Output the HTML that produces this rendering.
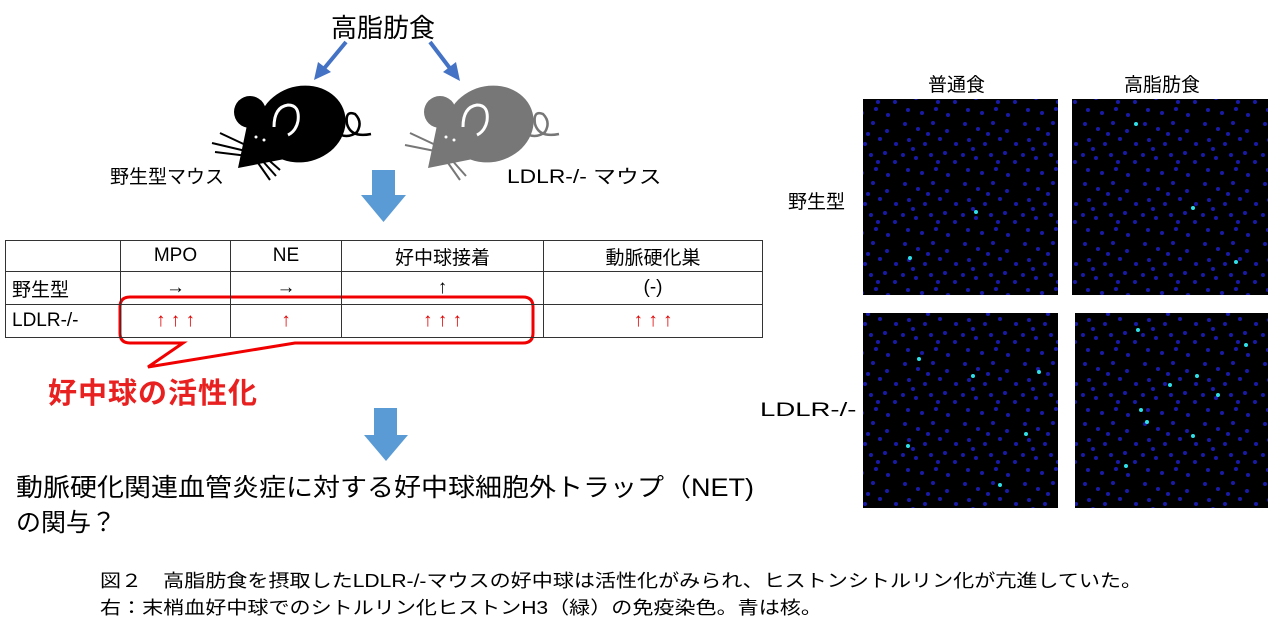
<!DOCTYPE html>
<html><head><meta charset="utf-8">
<style>
html,body{margin:0;padding:0;background:#fff;}
body{width:1280px;height:630px;position:relative;overflow:hidden;font-family:"Liberation Sans","Noto Sans CJK JP",sans-serif;color:#000;}
.t{position:absolute;white-space:nowrap;transform-origin:0 0;}
table{position:absolute;left:5px;top:240px;border-collapse:collapse;font-size:19px;}
td{border:1.5px solid #333;padding:0;text-align:center;}
.r{color:#e00000;}
</style></head><body>
<svg width="1280" height="630" style="position:absolute;left:0;top:0">
<defs>
<pattern id="dots" width="60" height="60" patternUnits="userSpaceOnUse">
<rect width="60" height="60" fill="#000"/>
<g fill="#1a1aa8">
<circle cx="5" cy="4" r="2"/><circle cx="18" cy="9" r="2"/><circle cx="33" cy="3" r="2"/><circle cx="47" cy="11" r="2"/><circle cx="56" cy="24" r="2"/>
<circle cx="9" cy="20" r="2"/><circle cx="25" cy="24" r="2"/><circle cx="40" cy="19" r="2"/><circle cx="3" cy="35" r="2"/><circle cx="16" cy="38" r="2"/>
<circle cx="31" cy="35" r="2"/><circle cx="45" cy="33" r="2"/><circle cx="55" cy="42" r="2"/><circle cx="8" cy="50" r="2"/><circle cx="22" cy="53" r="2"/>
<circle cx="36" cy="49" r="2"/><circle cx="48" cy="55" r="2"/><circle cx="28" cy="14" r="2"/><circle cx="13" cy="29" r="2"/><circle cx="38" cy="42" r="2"/>
</g></pattern>
</defs>
<g stroke="#4472c4" stroke-width="4" fill="#4472c4">
<line x1="346" y1="42" x2="322" y2="71"/><polygon points="314,80 318,62 331,72" stroke="none"/>
<line x1="430" y1="42" x2="452" y2="71"/><polygon points="460,81 443,72 456,62" stroke="none"/>
</g>
<!-- black mouse -->
<g fill="#000">
<ellipse cx="302" cy="124" rx="44" ry="38" transform="rotate(-15 302 124)"/>
<circle cx="250" cy="112" r="16"/>
<polygon points="252,100 300,130 290,158 238,168 246,130"/>
</g>
<path d="M335,132 q12,8 22,0 q6,-10 -2,-18 q-10,-4 -8,10 q4,14 24,10" fill="none" stroke="#000" stroke-width="2.5"/>
<path d="M274,127 q0,-20 14,-22 q12,0 10,16 q-2,10 -10,14" fill="none" stroke="#fff" stroke-width="3"/>
<g stroke="#000" stroke-width="2"><line x1="220" y1="133" x2="252" y2="148"/><line x1="212" y1="143" x2="250" y2="152"/><line x1="215" y1="152" x2="248" y2="156"/><line x1="256" y1="160" x2="270" y2="180"/><line x1="260" y1="158" x2="276" y2="176"/><line x1="264" y1="156" x2="280" y2="170"/></g>
<circle cx="256" cy="137" r="1.5" fill="#fff"/><circle cx="264" cy="140" r="1.5" fill="#fff"/>
<!-- grey mouse -->
<g fill="#777">
<ellipse cx="490" cy="124" rx="44" ry="38" transform="rotate(-15 490 124)"/>
<circle cx="440" cy="112" r="16"/>
<polygon points="442,100 488,130 478,158 428,168 436,130"/>
</g>
<path d="M523,132 q12,8 22,0 q6,-10 -2,-18 q-10,-4 -8,10 q4,14 24,10" fill="none" stroke="#777" stroke-width="2.5"/>
<path d="M463,127 q0,-20 14,-22 q12,0 10,16 q-2,10 -10,14" fill="none" stroke="#fff" stroke-width="3"/>
<g stroke="#777" stroke-width="2"><line x1="410" y1="133" x2="442" y2="148"/><line x1="405" y1="145" x2="440" y2="152"/><line x1="446" y1="160" x2="460" y2="180"/><line x1="450" y1="158" x2="466" y2="176"/></g>
<circle cx="446" cy="137" r="1.5" fill="#fff"/><circle cx="454" cy="140" r="1.5" fill="#fff"/>
<polygon points="372,170 395,170 395,195 406,195 383.5,222 361,195 372,195" fill="#5b9bd5"/>
<polygon points="374,408 397,408 397,435 408,435 386,461 364,435 374,435" fill="#5b9bd5"/>
<path d="M130,297 H523 Q533,297 533,307 V333 Q533,343 523,343 H295 L148,367 L183,343 H130 Q120,343 120,333 V307 Q120,297 130,297 Z" fill="none" stroke="#f00000" stroke-width="3"/>
<rect x="863" y="99" width="195" height="196" fill="url(#dots)"/>
<rect x="1072" y="99" width="196" height="196" fill="url(#dots)"/>
<rect x="863" y="313" width="195" height="195" fill="url(#dots)"/>
<rect x="1075" y="313" width="193" height="195" fill="url(#dots)"/>
<g fill="#30e0e8">
<circle cx="910" cy="258" r="2"/><circle cx="976" cy="212" r="2"/>
<circle cx="1136" cy="124" r="2"/><circle cx="1193" cy="208" r="2"/><circle cx="1236" cy="262" r="2"/>
<circle cx="919" cy="359" r="2"/><circle cx="973" cy="376" r="2"/><circle cx="1039" cy="372" r="2"/><circle cx="1026" cy="434" r="2"/><circle cx="908" cy="446" r="2"/><circle cx="1000" cy="485" r="2"/>
<circle cx="1138" cy="330" r="2"/><circle cx="1170" cy="385" r="2"/><circle cx="1141" cy="410" r="2"/><circle cx="1147" cy="422" r="2"/><circle cx="1197" cy="376" r="2"/><circle cx="1218" cy="395" r="2"/><circle cx="1126" cy="466" r="2"/><circle cx="1193" cy="436" r="2"/><circle cx="1246" cy="345" r="2"/>
</g>
</svg>
<div class="t" style="left:331px;top:8px;font-size:26px;">高脂肪食</div>
<div class="t" style="left:110px;top:162px;font-size:19px;">野生型マウス</div>
<div class="t" style="left:507px;top:162px;font-size:19px;transform:scaleX(1.2);">LDLR-/- マウス</div>
<table>
<tr style="height:31px"><td style="width:114px"></td><td style="width:109px">MPO</td><td style="width:110px">NE</td><td style="width:201px">好中球接着</td><td style="width:218px">動脈硬化巣</td></tr>
<tr style="height:33px"><td style="text-align:left;padding-left:6px">野生型</td><td>→</td><td>→</td><td>↑</td><td>(-)</td></tr>
<tr style="height:33px"><td style="text-align:left;padding-left:6px">LDLR-/-</td><td class="r">↑ ↑ ↑</td><td class="r">↑</td><td class="r">↑ ↑ ↑</td><td class="r">↑ ↑ ↑</td></tr>
</table>
<div class="t" style="left:48px;top:370px;font-size:29px;letter-spacing:1px;color:#e82020;font-weight:bold;">好中球の活性化</div>
<div class="t" style="left:16px;top:468px;font-size:25px;transform:scaleX(1.08);">動脈硬化関連血管炎症に対する好中球細胞外トラップ（NET)</div>
<div class="t" style="left:16px;top:503px;font-size:25px;">の関与？</div>
<div class="t" style="left:928px;top:70px;font-size:19px;">普通食</div>
<div class="t" style="left:1124px;top:70px;font-size:19px;">高脂肪食</div>
<div class="t" style="left:788px;top:187px;font-size:19px;">野生型</div>
<div class="t" style="left:760px;top:400px;font-size:19px;transform:scaleX(1.45);">LDLR-/-</div>
<div class="t" style="left:100px;top:567px;font-size:18px;transform:scaleX(1.17);">図２　高脂肪食を摂取したLDLR-/-マウスの好中球は活性化がみられ、ヒストンシトルリン化が亢進していた。</div>
<div class="t" style="left:100px;top:594px;font-size:18px;transform:scaleX(1.17);">右：末梢血好中球でのシトルリン化ヒストンH3（緑）の免疫染色。青は核。</div>
</body></html>
